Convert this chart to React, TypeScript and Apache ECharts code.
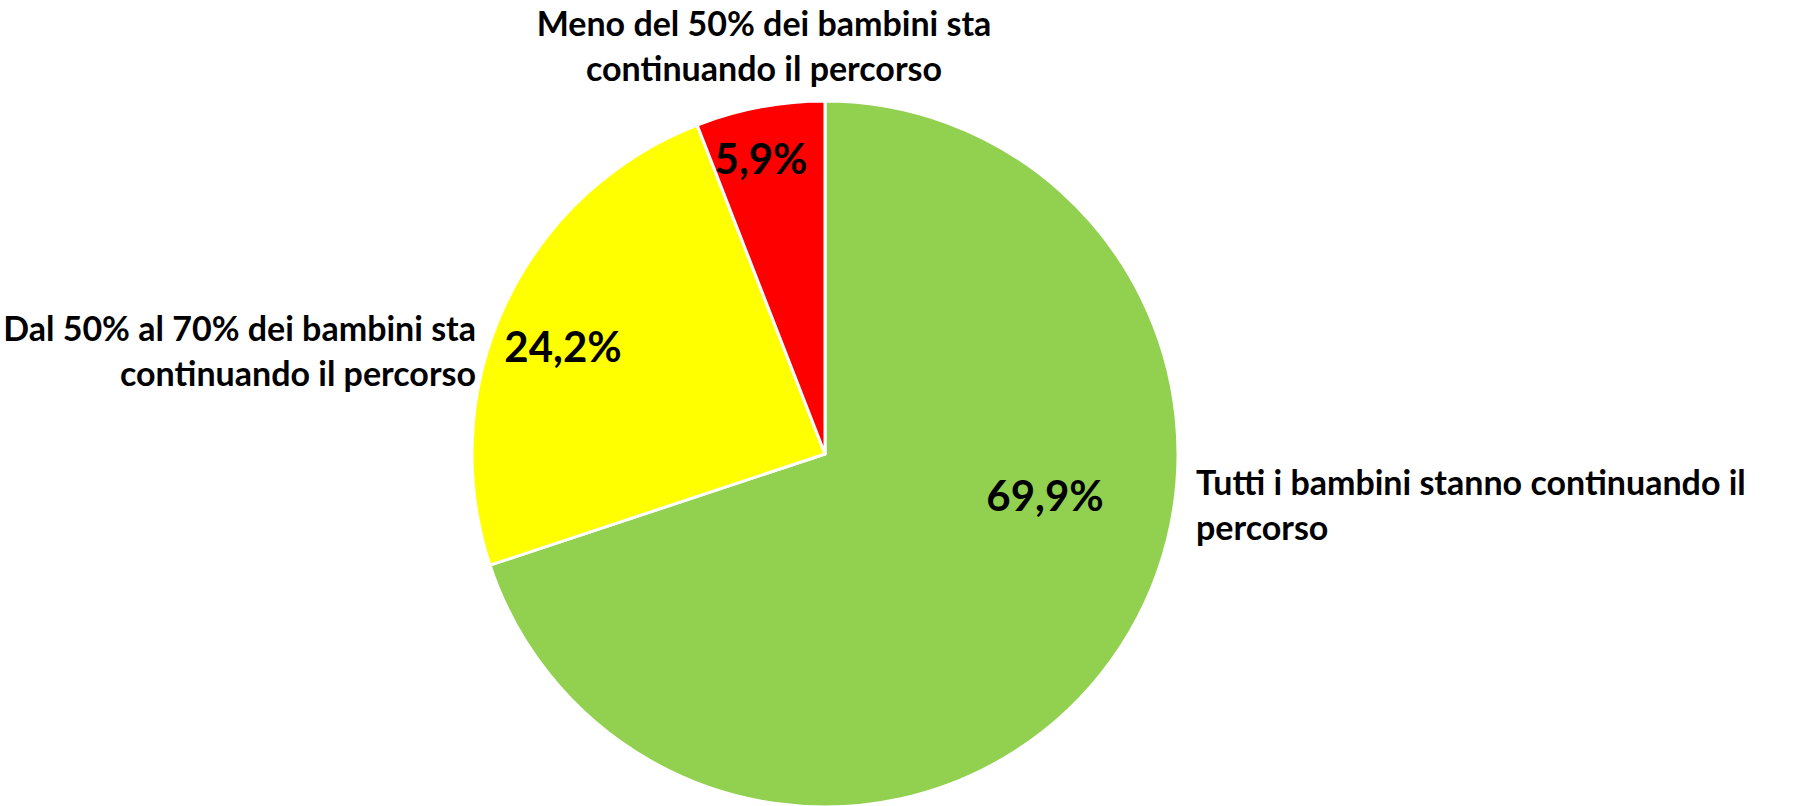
import React, { useEffect, useRef } from "react";
import * as echarts from "echarts";

const categories = [
  "Tutti i bambini stanno continuando il\npercorso",
  "Dal 50% al 70% dei bambini sta\ncontinuando il percorso",
  "Meno del 50% dei bambini sta\ncontinuando il percorso",
];
const values = [69.9, 24.2, 5.9];
const colors = ["#92D050", "#FFFF00", "#FF0000"];

// label placement (layout only)
const nameLabelPos = [
  { x: 1196, y: 504, align: "left" },
  { x: 476, y: 350, align: "right" },
  { x: 764, y: 45, align: "center" },
];
const valueLabelPos = [
  { x: 1045, y: 495 },
  { x: 563, y: 346 },
  { x: 761, y: 158 },
];

const FONT = "Lato, 'Open Sans', sans-serif";

export default function App() {
  const ref = useRef<HTMLDivElement>(null);
  useEffect(() => {
    if (!ref.current) return;
    const chart = echarts.init(ref.current, undefined, { renderer: "svg" });
    const data = categories.map((name, i) => ({
      name,
      value: values[i],
      itemStyle: { color: colors[i] },
    }));
    const nameData = categories.map((name, i) => ({
      name,
      value: values[i],
      itemStyle: { color: "rgba(0,0,0,0)" },
    }));
    chart.setOption({
      animation: false,
      backgroundColor: "#ffffff",
      series: [
        {
          type: "pie",
          z: 1,
          center: [825, 454],
          radius: 353,
          startAngle: 90,
          clockwise: true,
          data: nameData,
          itemStyle: { borderWidth: 0 },
          label: {
            show: true,
            position: "outside",
            formatter: (p: any) => p.name,
            fontFamily: FONT,
            fontWeight: "bold",
            fontSize: 34,
            lineHeight: 45,
            color: "#000000",
            overflow: "none",
          },
          labelLine: { show: false },
          labelLayout: (p: any) => ({
            x: nameLabelPos[p.dataIndex].x,
            y: nameLabelPos[p.dataIndex].y,
            align: nameLabelPos[p.dataIndex].align,
            verticalAlign: "middle",
          }),
          emphasis: { disabled: true },
          silent: true,
        },
        {
          type: "pie",
          z: 2,
          center: [825, 454],
          radius: 353,
          startAngle: 90,
          clockwise: true,
          data,
          itemStyle: { borderColor: "#ffffff", borderWidth: 3 },
          label: {
            show: true,
            position: "inside",
            formatter: (p: any) => p.value.toFixed(1).replace(".", ",") + "%",
            fontFamily: FONT,
            fontWeight: "bold",
            fontSize: 42,
            color: "#000000",
          },
          labelLayout: (p: any) => ({
            x: valueLabelPos[p.dataIndex].x,
            y: valueLabelPos[p.dataIndex].y,
            align: "center",
            verticalAlign: "middle",
          }),
          emphasis: { disabled: true },
          silent: true,
        },
      ],
    });
    return () => chart.dispose();
  }, []);
  return (
    <div
      ref={ref}
      style={{ position: "fixed", left: 0, top: 0, width: 1797, height: 806 }}
    />
  );
}
